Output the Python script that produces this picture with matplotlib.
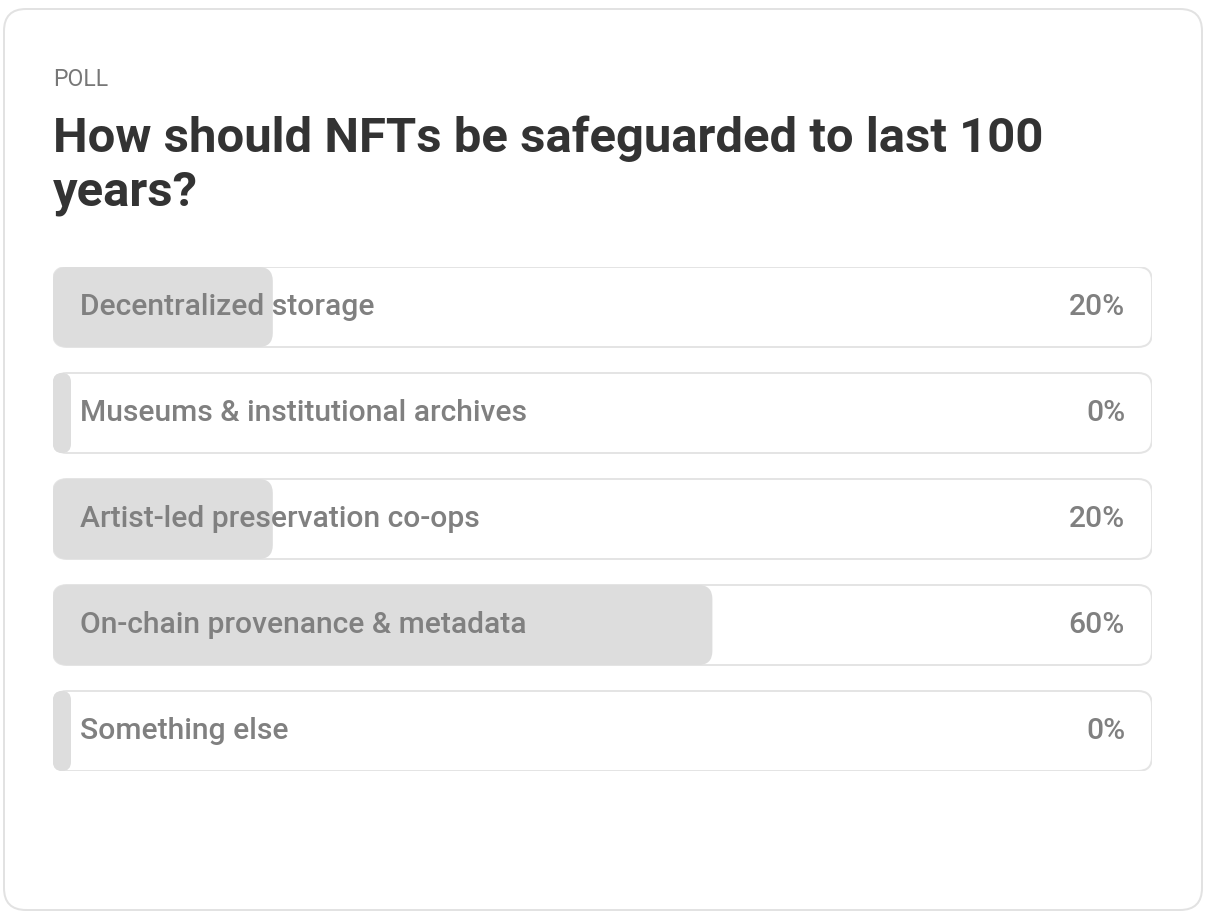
import matplotlib
matplotlib.use("Agg")
import matplotlib.pyplot as plt
from matplotlib.patches import FancyBboxPatch

# poll data
kicker = "POLL"
question_lines = ["How should NFTs be safeguarded to last 100", "years?"]
options = [
    "Decentralized storage",
    "Museums & institutional archives",
    "Artist-led preservation co-ops",
    "On-chain provenance & metadata",
    "Something else",
]
shares = [20, 0, 20, 60, 0]

W, H = 1216, 914
DPI = 100
PX = 72 / DPI  # points per pixel

FONT = ["Roboto", "DejaVu Sans"]
TRACK_EDGE = "#e4e4e4"
FILL = "#dddddd"
MUTED = "#808080"
DARK = "#333333"

fig = plt.figure(figsize=(W / DPI, H / DPI), dpi=DPI)
fig.patch.set_facecolor("white")

# full-figure axes in pixel units for the card and header text
bg = fig.add_axes([0, 0, 1, 1])
bg.set_xlim(0, W)
bg.set_ylim(H, 0)
bg.axis("off")

card = FancyBboxPatch((4, 9), 1198, 901, boxstyle="round,pad=0,rounding_size=22",
                      facecolor="white", edgecolor="#e2e2e2", linewidth=2 * PX)
bg.add_patch(card)

bg.text(53, 86, kicker, fontsize=23 * PX, color="#777777", family=FONT,
        va="baseline", ha="left")
bg.text(53, 152, question_lines[0], fontsize=49 * PX, color=DARK, family=FONT,
        fontweight="bold", va="baseline", ha="left")
bg.text(53, 206, question_lines[1], fontsize=49 * PX, color=DARK, family=FONT,
        fontweight="bold", va="baseline", ha="left")

# bar area
left, right = 53, 1152
row_h, row_step = 80, 106
top = 267
n = len(options)
bottom = top + (n - 1) * row_step + row_h
ax = fig.add_axes([left / W, 1 - bottom / H, (right - left) / W, (bottom - top) / H])
h = row_h / row_step
ax.set_xlim(0, 100)
ax.set_ylim(n - 1 + h / 2, -h / 2)
ax.axis("off")

px_x = (right - left) / 100.0  # pixels per x unit
aspect = px_x / row_step
radius_px = 14
min_fill_px = 18

for i, (label, val) in enumerate(zip(options, shares)):
    track = FancyBboxPatch((0, i - h / 2), 100, h,
                           boxstyle=f"round,pad=0,rounding_size={radius_px / px_x}",
                           mutation_aspect=aspect, facecolor="white",
                           edgecolor=TRACK_EDGE, linewidth=2 * PX, zorder=1)
    ax.add_patch(track)

    w = max(val, min_fill_px / px_x)
    r = min(radius_px / px_x, w / 2)
    fill = FancyBboxPatch((0, i - h / 2), w, h,
                          boxstyle=f"round,pad=0,rounding_size={r}",
                          mutation_aspect=aspect, facecolor=FILL,
                          edgecolor="none", zorder=2)
    ax.add_patch(fill)

    ax.annotate(label, xy=(0, i), xytext=(27 * PX, 0), textcoords="offset points",
                ha="left", va="center", fontsize=30 * PX, color=MUTED,
                family=FONT, fontweight="medium", zorder=3)
    ax.annotate(f"{val}%", xy=(100, i), xytext=(-27 * PX, 0), textcoords="offset points",
                ha="right", va="center", fontsize=30 * PX, color=MUTED,
                family=FONT, fontweight="medium", zorder=3)

fig.savefig("out.png", dpi=DPI, facecolor="white")
